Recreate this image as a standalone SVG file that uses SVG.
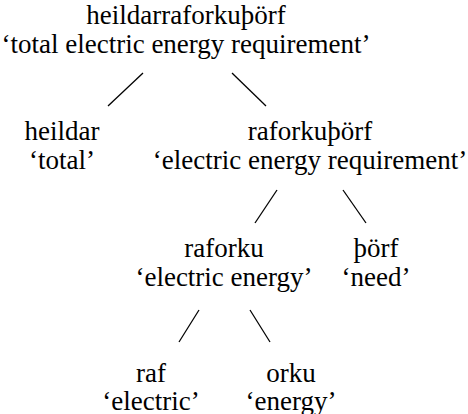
<svg xmlns="http://www.w3.org/2000/svg" width="468" height="414" viewBox="0 0 468 414">
<style>
text{font-family:"Liberation Serif","Times New Roman",serif;font-size:27px;fill:#000;text-anchor:middle}
.e line{stroke:#000;stroke-width:1.3;fill:none}
</style>
<rect width="468" height="414" fill="#fff"/>
<g id="n-root"><text x="186" y="24">heildarraforkuþörf</text><text x="186" y="53">‘total electric energy requirement’</text></g>
<g id="n-heildar"><text x="62" y="140">heildar</text><text x="62" y="169">‘total’</text></g>
<g id="n-raforkuthorf"><text x="310" y="140">raforkuþörf</text><text x="310" y="169">‘electric energy requirement’</text></g>
<g id="n-raforku"><text x="224" y="257">raforku</text><text x="224" y="286">‘electric energy’</text></g>
<g id="n-thorf"><text x="376" y="257">þörf</text><text x="376" y="286">‘need’</text></g>
<g id="n-raf"><text x="151" y="382">raf</text><text x="151" y="410">‘electric’</text></g>
<g id="n-orku"><text x="291" y="382">orku</text><text x="291" y="410">‘energy’</text></g>
<g class="e" id="edges">
<line x1="143" y1="73" x2="108" y2="106"/>
<line x1="232" y1="73" x2="266" y2="106"/>
<line x1="277" y1="190" x2="255" y2="223"/>
<line x1="343" y1="190" x2="366" y2="223"/>
<line x1="199" y1="310" x2="179" y2="342"/>
<line x1="250" y1="310" x2="270" y2="342"/>
</g>
</svg>
